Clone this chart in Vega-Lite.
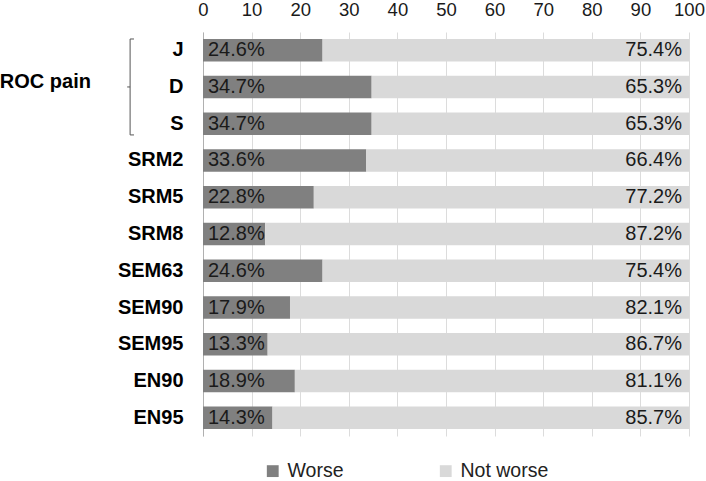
{
  "$schema": "https://vega.github.io/schema/vega-lite/v6.json",
  "width": 486,
  "height": 404,
  "autosize": {"type": "none"},
  "padding": {"left": 203, "top": 32, "right": 17, "bottom": 45},
  "config": {
    "font": "Liberation Sans",
    "view": {"stroke": null},
    "axis": {"labelFont": "Liberation Sans", "labelColor": "#1a1a1a"}
  },
  "data": {
    "values": [
      {"cat": "J", "group": "Worse", "value": 24.6},
      {"cat": "J", "group": "Not worse", "value": 75.4},
      {"cat": "D", "group": "Worse", "value": 34.7},
      {"cat": "D", "group": "Not worse", "value": 65.3},
      {"cat": "S", "group": "Worse", "value": 34.7},
      {"cat": "S", "group": "Not worse", "value": 65.3},
      {"cat": "SRM2", "group": "Worse", "value": 33.6},
      {"cat": "SRM2", "group": "Not worse", "value": 66.4},
      {"cat": "SRM5", "group": "Worse", "value": 22.8},
      {"cat": "SRM5", "group": "Not worse", "value": 77.2},
      {"cat": "SRM8", "group": "Worse", "value": 12.8},
      {"cat": "SRM8", "group": "Not worse", "value": 87.2},
      {"cat": "SEM63", "group": "Worse", "value": 24.6},
      {"cat": "SEM63", "group": "Not worse", "value": 75.4},
      {"cat": "SEM90", "group": "Worse", "value": 17.9},
      {"cat": "SEM90", "group": "Not worse", "value": 82.1},
      {"cat": "SEM95", "group": "Worse", "value": 13.3},
      {"cat": "SEM95", "group": "Not worse", "value": 86.7},
      {"cat": "EN90", "group": "Worse", "value": 18.9},
      {"cat": "EN90", "group": "Not worse", "value": 81.1},
      {"cat": "EN95", "group": "Worse", "value": 14.3},
      {"cat": "EN95", "group": "Not worse", "value": 85.7}
    ]
  },
  "transform": [
    {"calculate": "format(datum.value, '.1f') + '%'", "as": "label"}
  ],
  "encoding": {
    "y": {
      "field": "cat",
      "type": "nominal",
      "sort": null,
      "scale": {"paddingInner": 0.39, "paddingOuter": 0.19},
      "axis": {
        "title": null,
        "orient": "left",
        "labelFontWeight": "bold",
        "labelFontSize": 20,
        "labelPadding": 20,
        "ticks": false,
        "domain": true,
        "domainColor": "#b0b0b0",
        "grid": false,
        "labelColor": "#000000"
      }
    }
  },
  "layer": [
    {
      "mark": {"type": "bar"},
      "encoding": {
        "x": {
          "field": "value",
          "type": "quantitative",
          "stack": "zero",
          "scale": {"domain": [0, 100], "nice": false},
          "axis": {
            "title": null,
            "orient": "top",
            "values": [0, 10, 20, 30, 40, 50, 60, 70, 80, 90, 100],
            "grid": true,
            "gridColor": "#dcdcdc",
            "ticks": false,
            "domain": false,
            "labelFontSize": 18.5,
            "labelPadding": 13,
            "labelFlush": false,
            "labelOverlap": false
          }
        },
        "color": {
          "field": "group",
          "type": "nominal",
          "scale": {"domain": ["Worse", "Not worse"], "range": ["#808080", "#d9d9d9"]},
          "legend": {
            "title": null,
            "orient": "none",
            "direction": "horizontal",
            "legendX": 60,
            "legendY": 429,
            "symbolType": "square",
            "symbolSize": 140,
            "symbolStrokeWidth": 0,
            "labelFontSize": 19.5,
            "labelColor": "#222222",
            "columnPadding": 92,
            "labelOffset": 5
          }
        },
        "order": {"field": "group", "sort": "descending"}
      }
    },
    {
      "transform": [{"filter": "datum.group === 'Worse'"}],
      "mark": {"type": "text", "align": "left", "baseline": "middle", "dx": 5, "fontSize": 20, "color": "#1a1a1a"},
      "encoding": {
        "x": {"datum": 0},
        "text": {"field": "label"}
      }
    },
    {
      "transform": [{"filter": "datum.group === 'Not worse'"}],
      "mark": {"type": "text", "align": "right", "baseline": "middle", "dx": -7, "fontSize": 20, "color": "#1a1a1a"},
      "encoding": {
        "x": {"datum": 100},
        "text": {"field": "label"}
      }
    },
    {
      "data": {"values": [{"name": "ROC pain"}]},
      "mark": {"type": "text", "align": "left", "baseline": "middle", "fontSize": 20, "fontWeight": "bold", "color": "#000000", "clip": false, "dy": -5},
      "encoding": {
        "x": {"datum": -41.8},
        "y": {"datum": "D"},
        "text": {"field": "name"}
      }
    },
    {
      "data": {"values": [{"name": "bracket"}]},
      "mark": {"type": "rule", "color": "#555555", "strokeWidth": 1, "clip": false},
      "encoding": {
        "x": {"datum": -15},
        "y": {"datum": "J", "bandPosition": 0},
        "y2": {"datum": "S", "bandPosition": 1}
      }
    },
    {
      "data": {"values": [{"name": "top"}]},
      "mark": {"type": "rule", "color": "#555555", "strokeWidth": 1, "clip": false},
      "encoding": {
        "x": {"datum": -15},
        "x2": {"datum": -14.2},
        "y": {"datum": "J", "bandPosition": 0}
      }
    },
    {
      "data": {"values": [{"name": "bottom"}]},
      "mark": {"type": "rule", "color": "#555555", "strokeWidth": 1, "clip": false},
      "encoding": {
        "x": {"datum": -15},
        "x2": {"datum": -14.2},
        "y": {"datum": "S", "bandPosition": 1}
      }
    },
    {
      "data": {"values": [{"name": "mid"}]},
      "mark": {"type": "rule", "color": "#555555", "strokeWidth": 1, "clip": false},
      "encoding": {
        "x": {"datum": -15.6},
        "x2": {"datum": -15},
        "y": {"datum": "D"}
      }
    }
  ]
}
